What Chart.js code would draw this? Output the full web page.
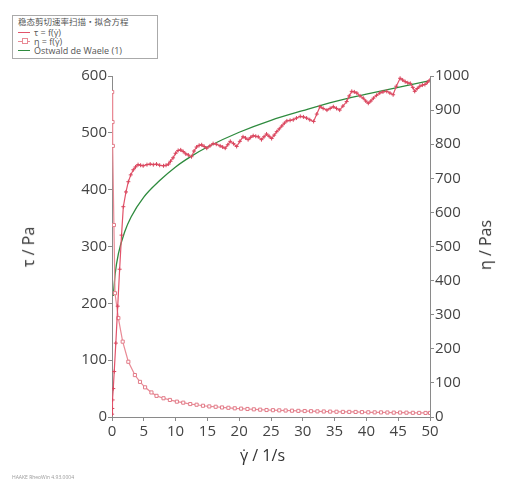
<!DOCTYPE html>
<html>
<head>
<meta charset="utf-8">
<script src="https://cdn.jsdelivr.net/npm/chart.js@4"></script>
<style>
  html, body { margin: 0; padding: 0; background: #fff; }
  #wrap { position: relative; width: 505px; height: 484px; font-family: "Open Sans", "Noto Sans", sans-serif; }
  canvas { position: absolute; left: 0; top: 0; }
  .legend { position: absolute; left: 12px; top: 15px; width: 144px; height: 42px; border: 1px solid #aaa; background: #fff; font-size: 9px; line-height: 9px; color: #555; }
  .legend .title { position: absolute; left: 5px; top: 1px; font-family: "Noto Sans CJK SC", sans-serif; font-size: 8.5px; }
  .legend .row { position: absolute; left: 21px; }
  .legend .swatch { position: absolute; left: -16px; top: 4px; width: 12px; height: 0; border-top: 1px solid; }
  .legend .sq { position: absolute; left -12px; top: 1px; width: 4px; height: 4px; border: 1px solid #e98a95; background: #fff; }
  .axt { position: absolute; font-size: 16px; color: #333; white-space: nowrap; }
  .foot { position: absolute; left: 12px; top: 474px; font-size: 5px; color: #999; }
</style>
</head>
<body>
<div id="wrap">
  <canvas id="chart" width="505" height="484"></canvas>
  <div class="legend">
    <div class="title">稳态剪切速率扫描·拟合方程</div>
    <div class="row" style="top:12px"><span class="swatch" style="border-color:#e2536a"></span>τ = f(γ̇)</div>
    <div class="row" style="top:21px"><span class="swatch" style="border-color:#e98a95"></span><span class="sq" style="left:-12px"></span>η = f(γ̇)</div>
    <div class="row" style="top:30px"><span class="swatch" style="border-color:#2e8b3e"></span>Ostwald de Waele (1)</div>
  </div>
  <div class="axt" style="left:8px; top:236px; transform:rotate(-90deg);">τ / Pa</div>
  <div class="axt" style="left:460px; top:234px; transform:rotate(-90deg);">η / Pas</div>
  <div class="axt" style="left:240px; top:444px;">γ̇ / 1/s</div>
  <div class="foot">HAAKE RheoWin 4.93.0004</div>
</div>
<script>
// shear stress tau = f(shear rate)
const tauRate = [0.02,0.05,0.1,0.2,0.35,0.6,0.9,1.2,1.5,1.78,2.2,2.57,2.95,3.35,3.7,4.1,4.5,4.9,5.5,6.0,6.5,7.0,7.5,8.1,8.5,8.9,9.2,9.6,10.0,10.4,10.8,11.2,11.6,12.0,12.5,12.9,13.3,13.7,14.1,14.5,14.9,15.4,15.9,16.4,17.0,17.4,17.8,18.2,18.6,19.1,19.6,20.1,20.6,21.0,21.4,21.8,22.2,22.6,23.0,23.5,23.9,24.3,24.7,25.1,25.5,25.9,26.3,26.7,27.1,27.5,28.0,28.5,29.0,29.6,30.1,30.6,31.1,31.7,32.2,32.7,33.2,33.8,34.3,34.8,35.3,35.8,36.3,36.9,37.3,37.7,38.1,38.5,39.0,39.5,39.9,40.3,40.7,41.1,41.6,42.1,42.6,43.2,43.7,44.2,44.7,45.3,45.7,46.1,46.5,46.9,47.3,47.6,48.0,48.4,48.8,49.2,49.6,50.0];
const tauValues = [5,15,30,50,80,130,195,260,320,370,396,414,426,435,440,444,443,442,444,445,444,445,443,442,443,445,450,456,464,469,470,467,463,461,458,468,475,478,479,476,473,477,481,480,477,475,473,479,485,481,476,485,493,491,488,492,495,494,493,488,493,498,494,490,496,502,507,512,517,521,522,523,526,529,528,526,523,520,533,546,543,540,543,546,543,540,547,555,565,573,572,570,565,561,556,552,556,561,566,570,572,573,570,567,582,596,593,590,588,587,580,573,578,582,584,585,589,593];

// viscosity eta = f(shear rate)
const etaRate = [0.03,0.08,0.13,0.3,0.47,1.0,1.68,2.57,3.6,4.4,5.2,6.2,7.0,8.1,9.1,10.2,11.2,12.3,13.3,14.3,15.3,16.3,17.3,18.3,19.3,20.3,21.3,22.3,23.3,24.3,25.3,26.3,27.3,28.3,29.3,30.3,31.3,32.3,33.3,34.3,35.3,36.3,37.3,38.3,39.3,40.3,41.3,42.3,43.3,44.3,45.3,46.3,47.3,48.3,49.3,50.0];
const etaValues = [953,865,795,563,363,290,221,162,123,103,87,72,62,55,50,45,42,38,36,33,31,30,28,27,25.5,24.5,23.5,22.5,21.5,20.5,20,19.5,19,18.5,18,17.5,17,16.5,16.2,15.8,15.4,15,15,14.8,14.3,13.8,13.6,13.5,13.2,12.8,13,12.7,12.3,12,11.9,11.9];

// Ostwald de Waele fit line
const fitRate = [0.2,0.5,1,2,3,5,7.5,10,12.5,15,20,25,30,35,40,45,50];
const fitValues = [213,252,287,326,352,387,416,440,459,475,501,522,539,555,568,580,592];

const xTicks = { min: 0, max: 50, step: 5 };
const tauTicks = { min: 0, max: 600, step: 100 };
const etaTicks = { min: 0, max: 1000, step: 100 };

const pts = (xs, ys) => xs.map((x, i) => ({ x: x, y: ys[i] }));

const tickFont = { family: '"Open Sans", "Noto Sans", sans-serif', size: 15 };
const axisColor = '#8a8a8a';

function axis(extra, range, pad) {
    return Object.assign({
        type: 'linear',
        min: range.min,
        max: range.max,
        border: { color: axisColor, width: 1 },
        grid: { drawOnChartArea: false, drawTicks: true, tickLength: 4, color: axisColor },
        ticks: {
            font: tickFont, color: '#444', padding: pad, stepSize: range.step, maxRotation: 0,
            callback: v => String(v)
        }
    }, extra);
}

new Chart(document.getElementById('chart'), {
    type: 'line',
    data: {
        datasets: [
            {
                label: 'τ = f(γ̇)',
                data: pts(tauRate, tauValues),
                yAxisID: 'y',
                borderColor: '#e2536a',
                borderWidth: 1.2,
                pointStyle: 'cross',
                pointRadius: 2,
                pointBorderColor: '#d9465e',
                pointBorderWidth: 1,
                tension: 0
            },
            {
                label: 'η = f(γ̇)',
                data: pts(etaRate, etaValues),
                yAxisID: 'y2',
                borderColor: '#e98a95',
                borderWidth: 1.2,
                pointStyle: 'rect',
                pointRadius: 2.2,
                pointBackgroundColor: '#fff',
                pointBorderColor: '#e27b88',
                pointBorderWidth: 1,
                tension: 0
            },
            {
                label: 'Ostwald de Waele (1)',
                data: pts(fitRate, fitValues),
                yAxisID: 'y',
                borderColor: '#2e8b3e',
                borderWidth: 1.3,
                pointRadius: 0,
                cubicInterpolationMode: 'monotone'
            }
        ]
    },
    options: {
        responsive: false,
        animation: false,
        layout: { padding: { top: 76, left: 0, right: 0, bottom: 0 } },
        plugins: { legend: { display: false }, tooltip: { enabled: false } },
        scales: {
            x: axis({ position: 'bottom', afterFit: s => { s.height = 67; } }, xTicks, 2),
            y: axis({ position: 'left', afterFit: s => { s.width = 112; } }, tauTicks, 1),
            y2: axis({ position: 'right', afterFit: s => { s.width = 75; } }, etaTicks, 1)
        }
    }
});
</script>
</body>
</html>
